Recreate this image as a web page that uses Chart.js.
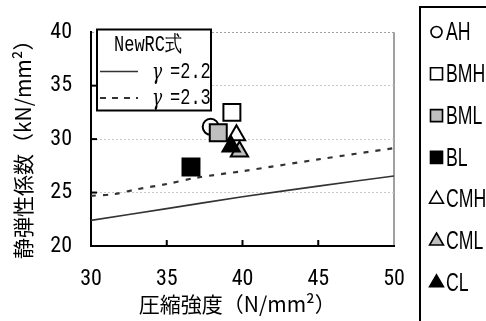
<!DOCTYPE html>
<html><head><meta charset="utf-8">
<script src="https://cdn.jsdelivr.net/npm/chart.js@4"></script>
<style>html,body{margin:0;padding:0;background:#fff}canvas{display:block}</style>
</head><body>
<canvas id="c" width="486" height="321"></canvas>
<script>
// ---- data ----
const seriesNames = ['AH','BMH','BML','BL','CMH','CML','CL'];
const strengthX = [37.9, 39.3, 38.4, 36.6, 39.6, 39.8, 39.25];
const modulusY = [31.15, 32.5, 30.6, 27.4, 30.35, 28.85, 29.3];
const curveX22 = [30, 35, 40, 45, 50];
const gamma22 = [22.4, 23.5, 24.6, 25.6, 26.55];
const curveX23 = [30, 31.5, 33, 35, 37, 40, 45, 50];
const gamma23 = [24.7, 24.85, 25.3, 25.8, 26.4, 27.0, 28.1, 29.15];
const xTicks = [30, 35, 40, 45, 50];
const yTicks = [20, 25, 30, 35, 40];
const gammaSymbol = 'γ';
const gammaValues = ['=2.2', '=2.3'];
const innerLegendTitle = 'NewRC式';
const xTitle = '圧縮強度（N/mm²）\u3000';
const yTitle = '静弾性係数（kN/mm²）\u3000';

// ---- styles ----
const markerStyles = [
  {style:'circle', fill:'#ffffff', r:8, lr:5.5},
  {style:'rect', fill:'#ffffff', r:12, lr:8.5},
  {style:'rect', fill:'#bfbfbf', r:12, lr:8.5},
  {style:'rect', fill:'#000000', r:12, lr:8.5},
  {style:'triangle', fill:'#ffffff', r:10, lr:8},
  {style:'triangle', fill:'#bfbfbf', r:10, lr:8},
  {style:'triangle', fill:'#000000', r:10, lr:8}
];
const tickFont = {family:'"Roboto Condensed","Liberation Sans",sans-serif', size:22};
const titleFont = {family:'"Noto Sans CJK JP",sans-serif', size:21};

const datasets = [
  {label:'g22', data: curveX22.map((x,i)=>({x, y:gamma22[i]})), showLine:true, borderColor:'#333', borderWidth:1.6,
   pointRadius:0, fill:false, tension:0.3, order:30},
  {label:'g23', data: curveX23.map((x,i)=>({x, y:gamma23[i]})), showLine:true, borderColor:'#333', borderWidth:2.2,
   borderDash:[5,7], pointRadius:0, fill:false, tension:0.3, order:31}
].concat(seriesNames.map((n,i)=>({
  label:n, data:[{x:strengthX[i], y:modulusY[i]}],
  pointStyle:markerStyles[i].style, pointRadius:markerStyles[i].r, pointHoverRadius:markerStyles[i].r,
  backgroundColor:markerStyles[i].fill, borderColor:'#000', borderWidth:2, order:20-i
})));

function drawMarker(ctx, style, x, y, r, fill){
  ctx.save();
  ctx.fillStyle = fill; ctx.strokeStyle = '#000'; ctx.lineWidth = 1.6;
  ctx.beginPath();
  if (style === 'circle') ctx.arc(x, y, r, 0, Math.PI*2);
  else if (style === 'rect') { const s = r*Math.SQRT1_2; ctx.rect(x-s, y-s, 2*s, 2*s); }
  else { ctx.moveTo(x, y-r); ctx.lineTo(x+r*Math.sin(2*Math.PI/3), y-r*Math.cos(2*Math.PI/3));
         ctx.lineTo(x+r*Math.sin(4*Math.PI/3), y-r*Math.cos(4*Math.PI/3)); ctx.closePath(); }
  ctx.fill(); ctx.stroke(); ctx.restore();
}

const decor = {
  id:'decor',
  beforeDatasetsDraw(chart){
    const ctx = chart.ctx, xs = chart.scales.x, ys = chart.scales.y, ca = chart.chartArea;
    ctx.save(); ctx.strokeStyle = '#000'; ctx.lineWidth = 2;
    xTicks.slice(1, -1).forEach(v=>{ const px = xs.getPixelForValue(v);
      ctx.beginPath(); ctx.moveTo(px, ca.bottom); ctx.lineTo(px, ca.bottom-6); ctx.stroke(); });
    yTicks.slice(1, -1).forEach(v=>{ const py = ys.getPixelForValue(v);
      ctx.beginPath(); ctx.moveTo(ca.left, py); ctx.lineTo(ca.left+6, py); ctx.stroke(); });
    ctx.restore();
  },
  afterDraw(chart){
    const ctx = chart.ctx;
    // inner legend box
    ctx.save();
    ctx.fillStyle = '#fff'; ctx.strokeStyle = '#000'; ctx.lineWidth = 2;
    ctx.fillRect(97, 29.5, 114, 81); ctx.strokeRect(97, 29.5, 114, 81);
    ctx.fillStyle = '#000';
    const mono = '17px "Liberation Mono","DejaVu Sans Mono",monospace';
    function vtext(t, x, y, align, font){
      ctx.save(); ctx.translate(x, y); ctx.scale(1, 1.3);
      ctx.font = font || mono; ctx.textAlign = align; ctx.textBaseline = 'middle';
      ctx.fillText(t, 0, 0); ctx.restore();
    }
    vtext(innerLegendTitle, 148, 45, 'center');
    ctx.strokeStyle = '#333'; ctx.lineWidth = 1.6;
    ctx.beginPath(); ctx.moveTo(100, 71.5); ctx.lineTo(138, 71.5); ctx.stroke();
    ctx.lineWidth = 2; ctx.setLineDash([6,6]);
    ctx.beginPath(); ctx.moveTo(100, 98); ctx.lineTo(138, 98); ctx.stroke();
    ctx.setLineDash([]);
    const gfont = 'italic 17px "DejaVu Serif","Liberation Serif",serif';
    vtext(gammaSymbol, 152, 73, 'left', gfont);
    vtext(gammaSymbol, 152, 99, 'left', gfont);
    vtext(gammaValues[0], 170, 72, 'left');
    vtext(gammaValues[1], 170, 98, 'left');
    // right legend
    ctx.strokeStyle = '#000'; ctx.lineWidth = 2;
    ctx.strokeRect(420, 7, 120, 400);
    ctx.fillStyle = '#000';
    seriesNames.forEach((n, i)=>{
      const y = 32 + i*41.8;
      drawMarker(ctx, markerStyles[i].style, 436.5, y, markerStyles[i].lr, markerStyles[i].fill);
      ctx.save(); ctx.translate(446, y + 1); ctx.scale(0.68, 1);
      ctx.font = '26px "Liberation Sans",sans-serif';
      ctx.textAlign = 'left'; ctx.textBaseline = 'middle';
      ctx.fillText(n, 0, 0); ctx.restore();
    });
    ctx.restore();
  }
};

new Chart(document.getElementById('c'), {
  type:'scatter',
  data:{datasets},
  options:{
    responsive:false, animation:false, devicePixelRatio:1,
    layout:{padding:{top:26, right:92, bottom:0, left:0}},
    plugins:{legend:{display:false}, tooltip:{enabled:false}},
    scales:{
      x:{type:'linear', min:30, max:50,
        afterBuildTicks: s=>{ s.ticks = xTicks.map(v=>({value:v})); },
        afterFit: s=>{ s.height = 75; },
        ticks:{font:tickFont, color:'#000', padding:20, maxRotation:0},
        grid:{drawTicks:false, lineWidth:2, color: c=> (c.tick && c.tick.value===50) ? '#a0a0a0' : 'rgba(0,0,0,0)'},
        border:{color:'#000', width:2},
        title:{display:true, text:xTitle, font:titleFont, color:'#000', padding:{top:0, bottom:4}}
      },
      y:{type:'linear', min:20, max:40,
        afterBuildTicks: s=>{ s.ticks = yTicks.map(v=>({value:v})); },
        afterFit: s=>{ s.width = 91; },
        ticks:{font:tickFont, color:'#000', padding:19},
        grid:{drawTicks:false, lineWidth:1, color: c=> (c.tick && c.tick.value===20) ? 'rgba(0,0,0,0)' : (c.tick && c.tick.value===40 ? '#a0a0a0' : '#c8c8c8')},
        border:{color:'#000', width:2, dash:[2,2]},
        title:{display:true, text:yTitle, font:titleFont, color:'#000', padding:{top:10, bottom:0}}
      }
    }
  },
  plugins:[decor]
});
</script>
</body></html>
